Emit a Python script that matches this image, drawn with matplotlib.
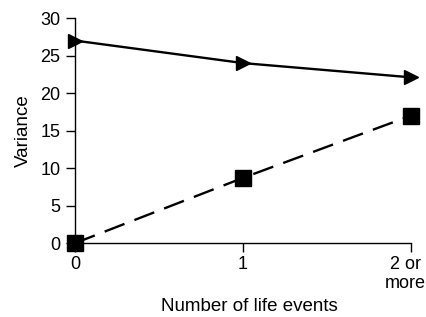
import matplotlib
matplotlib.use("Agg")
import matplotlib.pyplot as plt
from matplotlib.transforms import ScaledTranslation

plt.rcParams['font.family'] = ['Liberation Sans', 'DejaVu Sans']

x_pos = [0, 1, 2]
x_labels = ['0', '1', '2 or\nmore']
solid_vals = [27.0, 24.0, 22.1]
dashed_vals = [0.0, 8.7, 17.0]
y_ticks = [0, 5, 10, 15, 20, 25, 30]

fig = plt.figure(figsize=(4.26, 3.17), dpi=100)
ax = fig.add_axes([0.176, 0.233, 0.789, 0.710])

ax.plot(x_pos, solid_vals, color='black', linewidth=1.7, marker='>',
        markersize=10, clip_on=False, zorder=3)
ax.plot(x_pos, dashed_vals, color='black', linewidth=1.7, linestyle=(0, (9, 4.5)),
        marker='s', markersize=12, clip_on=False, zorder=3)

ax.set_xlim(0, 2)
ax.set_ylim(0, 30)
ax.set_xticks(x_pos, x_labels)
ax.set_yticks(y_ticks)
ax.tick_params(axis='both', direction='out', length=6.5, width=1, labelsize=13, pad=2.5)
ax.tick_params(axis='y', pad=4)
for s in ['top', 'right']:
    ax.spines[s].set_visible(False)
ax.spines['left'].set_linewidth(1)
ax.spines['bottom'].set_linewidth(1)

# nudge the last tick label a little left so it stays mostly inside
last = ax.get_xticklabels()[-1]
last.set_transform(last.get_transform() + ScaledTranslation(-4 / 72, 0, fig.dpi_scale_trans))

ax.set_ylabel('Variance', fontsize=13.5, labelpad=6)
ax.set_xlabel('Number of life events', fontsize=13.5)
ax.xaxis.set_label_coords(0.52, -0.245)

fig.savefig('out.png', dpi=100)
